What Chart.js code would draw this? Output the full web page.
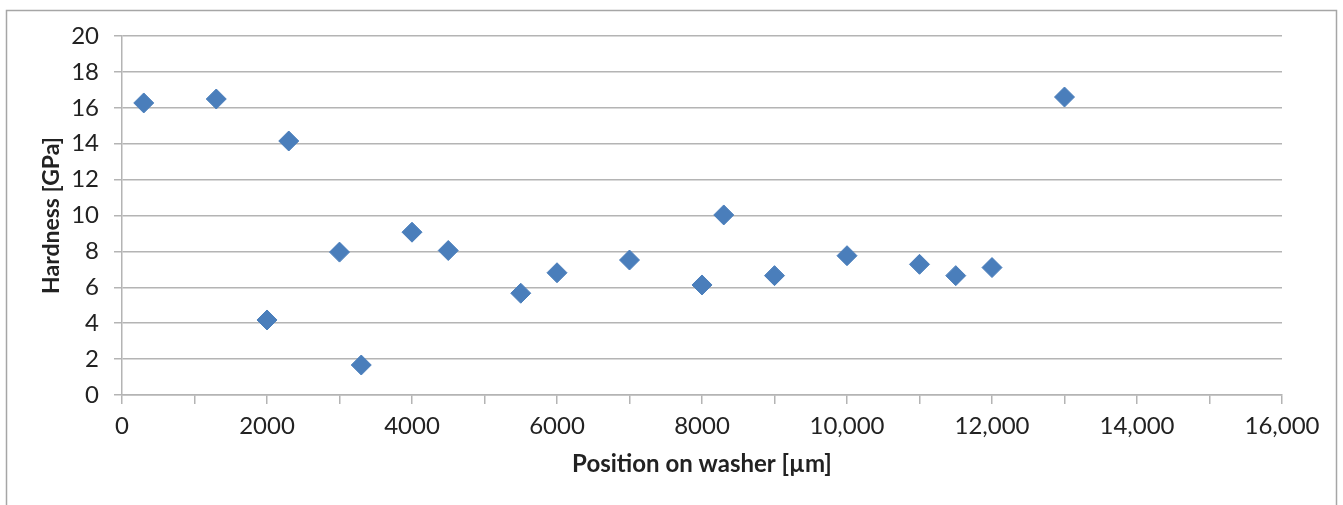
<!DOCTYPE html>
<html>
<head>
<meta charset="utf-8">
<script src="https://cdn.jsdelivr.net/npm/chart.js@4/dist/chart.umd.min.js"></script>
<style>
  html, body { margin: 0; padding: 0; background: #fff; }
  #wrap { width: 1343px; height: 505px; position: relative; }
</style>
</head>
<body>
<div id="wrap"><canvas id="grafico"></canvas></div>
<script>
// dados
const posicoes = [300, 1300, 2000, 2300, 3000, 3300, 4000, 4500, 5500, 6000, 7000, 8000, 8300, 9000, 10000, 11000, 11500, 12000, 13000];
const durezas = [16.27, 16.49, 4.18, 14.15, 7.96, 1.67, 9.07, 8.05, 5.67, 6.81, 7.52, 6.13, 10.03, 6.65, 7.76, 7.28, 6.65, 7.1, 16.6];
const xTickLabels = ["0", "2000", "4000", "6000", "8000", "10,000", "12,000", "14,000", "16,000"];
const yTickLabels = ["0", "2", "4", "6", "8", "10", "12", "14", "16", "18", "20"];

const cinza = "#b4b4b4";
const fonte = "Lato";

// moldura externa
const moldura = {
  id: "moldura",
  beforeDraw(chart) {
    const c = chart.ctx;
    c.save();
    c.strokeStyle = "#a6a6a6";
    c.lineWidth = 1.5;
    c.strokeRect(6.5, 10.5, 1330, 520);
    c.restore();
  }
};

new Chart(document.getElementById("grafico"), {
  type: "scatter",
  data: {
    datasets: [{
      data: posicoes.map((x, i) => ({ x: x, y: durezas[i] })),
      pointStyle: "rectRot",
      pointRadius: 10,
      backgroundColor: "#4a7ebb",
      borderColor: "#4a7ebb",
      borderWidth: 1
    }]
  },
  options: {
    responsive: true,
    maintainAspectRatio: false,
    animation: false,
    layout: { padding: { left: 0, top: 36, right: 61, bottom: 0 } },
    plugins: { legend: { display: false }, tooltip: { enabled: false } },
    scales: {
      x: {
        type: "linear",
        min: 0,
        max: 16000,
        afterFit: s => { s.height = 110; },
        border: { display: true, color: cinza, width: 1.5 },
        grid: { drawOnChartArea: false, drawTicks: true, tickLength: 9, color: cinza, lineWidth: 1.5 },
        ticks: {
          stepSize: 1000,
          autoSkip: false,
          maxRotation: 0,
          padding: 8,
          color: "#222",
          font: { family: fonte, size: 24 },
          callback: v => (v % 2000 === 0 ? xTickLabels[v / 2000] : "")
        },
        title: {
          display: true,
          text: "Position on washer [µm]",
          color: "#222",
          font: { family: fonte, size: 24, weight: "bold", lineHeight: 1.2 },
          padding: { top: 0, bottom: 26 }
        }
      },
      y: {
        min: 0,
        max: 20,
        afterFit: s => { s.width = 122; },
        border: { display: true, color: cinza, width: 1.5 },
        grid: { drawTicks: true, tickLength: 8, color: cinza, lineWidth: 1.5 },
        ticks: {
          stepSize: 2,
          padding: 15,
          color: "#222",
          font: { family: fonte, size: 24 },
          callback: v => yTickLabels[v / 2]
        },
        title: {
          display: true,
          text: "Hardness [GPa]",
          color: "#222",
          font: { family: fonte, size: 23, weight: "bold", lineHeight: 1.2 },
          padding: { top: 38, bottom: 0 }
        }
      }
    }
  },
  plugins: [moldura]
});
</script>
</body>
</html>
